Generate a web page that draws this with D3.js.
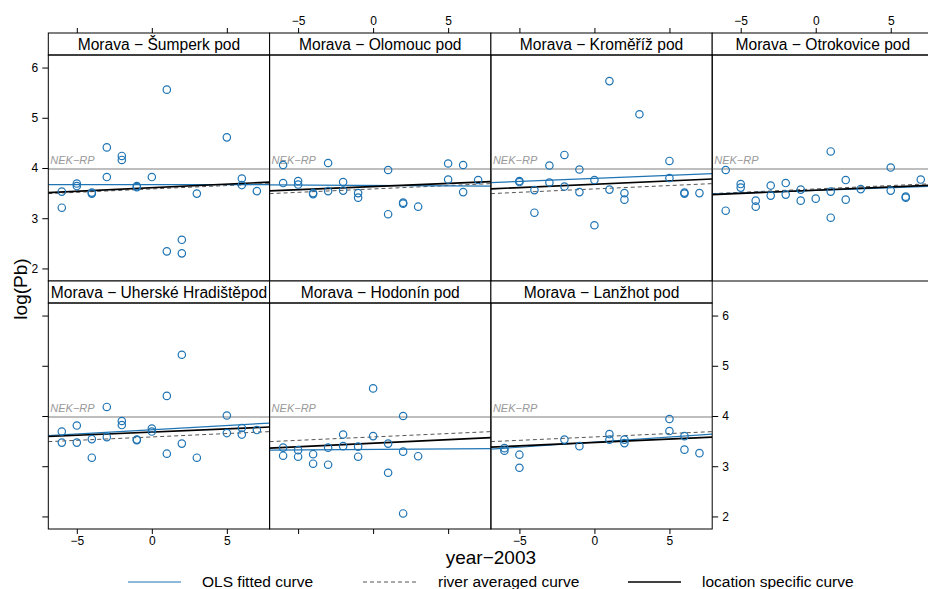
<!DOCTYPE html>
<html>
<head>
<meta charset="utf-8">
<script src="https://cdn.jsdelivr.net/npm/d3@7"></script>
<style>
body { margin: 0; background: #fff; }
text { font-family: "Liberation Sans", Arial, sans-serif; }
</style>
</head>
<body>
<script>
// one panel per sampling site, points are [year-2003, log(Pb)]
var sites = [
    "Morava \u2212 \u0160umperk pod",
    "Morava \u2212 Olomouc pod",
    "Morava \u2212 Krom\u011b\u0159\u00ed\u017e pod",
    "Morava \u2212 Otrokovice pod",
    "Morava \u2212 Uhersk\u00e9 Hradi\u0161t\u011bpod",
    "Morava \u2212 Hodon\u00edn pod",
    "Morava \u2212 Lan\u017ehot pod"
];

var sumperk = [[-6,3.53],[-6,3.21],[-5,3.69],[-5,3.64],[-4,3.51],[-4,3.49],[-3,4.41],[-3,3.82],
    [-2,4.24],[-2,4.16],[-1,3.64],[-1,3.62],[0,3.82],[1,5.56],[1,2.34],[2,2.57],[2,2.30],
    [3,3.49],[5,4.61],[6,3.79],[6,3.66],[7,3.54]];
var olomouc = [[-6,4.06],[-6,3.70],[-5,3.74],[-5,3.67],[-4,3.50],[-4,3.48],[-3,4.10],[-3,3.54],
    [-2,3.72],[-2,3.55],[-1,3.50],[-1,3.41],[1,3.96],[1,3.08],[2,3.31],[2,3.29],[3,3.23],
    [5,4.09],[5,3.77],[6,4.06],[6,3.52],[7,3.76]];
var kromeriz = [[-5,3.74],[-5,3.72],[-4,3.56],[-4,3.11],[-3,4.05],[-3,3.71],[-2,4.26],[-2,3.63],
    [-1,3.97],[-1,3.52],[0,3.76],[0,2.86],[1,5.73],[1,3.57],[2,3.50],[2,3.37],[3,5.07],
    [5,4.14],[5,3.80],[6,3.51],[6,3.49],[7,3.50]];
var otrokovice = [[-6,3.96],[-6,3.15],[-5,3.68],[-5,3.61],[-4,3.35],[-4,3.23],[-3,3.65],[-3,3.45],
    [-2,3.70],[-2,3.47],[-1,3.57],[-1,3.35],[0,3.39],[1,4.33],[1,3.53],[1,3.01],[2,3.76],
    [2,3.37],[3,3.58],[5,4.01],[5,3.55],[6,3.43],[6,3.41],[7,3.77]];
var uhHradiste = [[-6,3.69],[-6,3.47],[-5,3.81],[-5,3.47],[-4,3.54],[-4,3.17],[-3,4.18],[-3,3.58],
    [-2,3.90],[-2,3.82],[-1,3.53],[-1,3.52],[0,3.75],[0,3.69],[1,4.40],[1,3.25],[2,5.22],
    [2,3.45],[3,3.17],[5,4.01],[5,3.66],[6,3.76],[6,3.63],[7,3.72]];
var hodonin = [[-6,3.37],[-6,3.21],[-5,3.32],[-5,3.19],[-4,3.24],[-4,3.05],[-3,3.37],[-3,3.03],
    [-2,3.63],[-2,3.40],[-1,3.39],[-1,3.19],[0,4.55],[0,3.60],[1,3.45],[1,2.87],[2,4.00],
    [2,3.29],[2,2.06],[3,3.20]];
var lanzhot = [[-6,3.36],[-6,3.31],[-5,3.23],[-5,2.97],[-2,3.53],[-1,3.40],[1,3.64],[1,3.53],
    [2,3.53],[2,3.46],[5,3.94],[5,3.70],[6,3.60],[6,3.33],[7,3.26]];

var points = [sumperk, olomouc, kromeriz, otrokovice, uhHradiste, hodonin, lanzhot];

// fitted curves, value at year-2003 = 0 and slope per year
var olsIntercept = [3.67, 3.653, 3.794, 3.555, 3.727, 3.334, 3.480];
var olsSlope     = [0.0, -0.0017, 0.0122, 0.0108, 0.0169, 0.002, 0.0203];
var locIntercept = [3.608, 3.631, 3.676, 3.559, 3.679, 3.458, 3.473];
var locSlope     = [0.0142, 0.0125, 0.0132, 0.0128, 0.0128, 0.0142, 0.0135];
var riverIntercept = 3.583, riverSlope = 0.0135;
var nekRp = 3.98;

var xTicks = [-5, 0, 5],
    yTicks = [2, 3, 4, 5, 6];

var legendItems = ["OLS fitted curve", "river averaged curve", "location specific curve"];

var blue = "#1f74b4";

var margin = {top: 33, left: 48.3},
    panelW = 221.3,
    stripH = 22,
    panelH = 226,
    cols = 4;

var x = d3.scaleLinear().domain([-6.9, 7.85]).range([0, panelW]);
var y = d3.scaleLinear().domain([1.75, 6.25]).range([panelH, 0]);

var svg = d3.select("body").append("svg")
    .attr("width", 928)
    .attr("height", 589);

var defs = svg.append("defs");
defs.append("clipPath").attr("id", "clip")
    .append("rect").attr("width", panelW).attr("height", panelH);

function fitLine(a, b){
    var dom = x.domain();
    return d3.line()
        .x(function(d){ return x(d); })
        .y(function(d){ return y(a + b * d); })(dom);
}

function styleAxis(g, labels){
    g.select(".domain").remove();
    g.selectAll(".tick line").attr("stroke", "#000");
    g.selectAll(".tick text")
        .attr("fill", "#000")
        .style("font-size", "12px")
        .style("display", labels ? null : "none");
}

var panels = svg.selectAll("g.panel")
    .data(sites)
    .enter()
    .append("g")
    .attr("class", "panel")
    .attr("transform", function(d, i){
        var col = i % cols, row = Math.floor(i / cols);
        return "translate(" + (margin.left + col * panelW) + "," + (margin.top + row * (stripH + panelH)) + ")";
    })
    .each(function(d, i){
        var g = d3.select(this),
            col = i % cols,
            row = Math.floor(i / cols);

        // strip
        g.append("rect")
            .attr("width", panelW).attr("height", stripH)
            .attr("fill", "#fff").attr("stroke", "#000");
        g.append("text")
            .attr("x", panelW / 2).attr("y", stripH / 2 + 5.5)
            .attr("text-anchor", "middle")
            .style("font-size", "15.6px")
            .text(d);

        var body = g.append("g").attr("transform", "translate(0," + stripH + ")");
        var inner = body.append("g").attr("clip-path", "url(#clip)");

        inner.append("line")
            .attr("x1", 0).attr("x2", panelW)
            .attr("y1", y(nekRp)).attr("y2", y(nekRp))
            .attr("stroke", "#a8a8a8").attr("stroke-width", 1.5);
        inner.append("text")
            .attr("x", 2).attr("y", y(nekRp) - 5)
            .attr("fill", "#999")
            .style("font-size", "11px")
            .style("font-style", "italic")
            .text("NEK\u2212RP");

        inner.append("path")
            .attr("d", fitLine(riverIntercept, riverSlope))
            .attr("fill", "none").attr("stroke", "#555")
            .attr("stroke-dasharray", "4,3");
        inner.append("path")
            .attr("d", fitLine(olsIntercept[i], olsSlope[i]))
            .attr("fill", "none").attr("stroke", blue).attr("stroke-width", 1.2);
        inner.append("path")
            .attr("d", fitLine(locIntercept[i], locSlope[i]))
            .attr("fill", "none").attr("stroke", "#000").attr("stroke-width", 1.6);

        inner.selectAll("circle")
            .data(points[i])
            .enter()
            .append("circle")
            .attr("cx", function(p){ return x(p[0]); })
            .attr("cy", function(p){ return y(p[1]); })
            .attr("r", 3.7)
            .attr("fill", "none")
            .attr("stroke", blue)
            .attr("stroke-width", 1.2);

        body.append("rect")
            .attr("width", panelW).attr("height", panelH)
            .attr("fill", "none").attr("stroke", "#000");

        // axes on the outer sides, labels alternate
        if (row === 0) {
            g.append("g")
                .call(d3.axisTop(x).tickValues(xTicks).tickSize(5).tickPadding(3))
                .call(styleAxis, col % 2 === 1);
        }
        if (row === 1) {
            body.append("g")
                .attr("transform", "translate(0," + panelH + ")")
                .call(d3.axisBottom(x).tickValues(xTicks).tickSize(5).tickPadding(2).tickFormat(d3.format("d")))
                .call(styleAxis, col % 2 === 0);
        }
        if (col === 0) {
            body.append("g")
                .call(d3.axisLeft(y).tickValues(yTicks).tickSize(6).tickPadding(4))
                .call(styleAxis, row === 0);
        }
        if (i === sites.length - 1 || col === cols - 1) {
            body.append("g")
                .attr("transform", "translate(" + panelW + ",0)")
                .call(d3.axisRight(y).tickValues(yTicks).tickSize(6).tickPadding(4))
                .call(styleAxis, row === 1);
        }
    });

// minus sign like the reference
svg.selectAll(".tick text").text(function(d){ return d < 0 ? "\u2212" + Math.abs(d) : d; });

svg.append("text")
    .attr("x", margin.left + 2 * panelW).attr("y", 564)
    .attr("text-anchor", "middle")
    .style("font-size", "19px")
    .text("year\u22122003");

svg.append("text")
    .attr("transform", "translate(26.5,289) rotate(-90)")
    .attr("text-anchor", "middle")
    .style("font-size", "19px")
    .text("log(Pb)");

// legend
var legendX = [128, 363, 628];
var legend = svg.selectAll("g.legend")
    .data(legendItems)
    .enter()
    .append("g")
    .attr("class", "legend")
    .attr("transform", function(d, i){ return "translate(" + legendX[i] + ",582)"; });

legend.append("line")
    .attr("x1", 0).attr("x2", 53)
    .attr("stroke", function(d, i){ return i === 0 ? blue : i === 1 ? "#555" : "#000"; })
    .attr("stroke-width", function(d, i){ return i === 2 ? 1.6 : 1.2; })
    .attr("stroke-dasharray", function(d, i){ return i === 1 ? "4,3" : null; });

legend.append("text")
    .attr("x", function(d, i){ return i === 1 ? 75 : 74; })
    .attr("y", 5)
    .style("font-size", "15.5px")
    .text(function(d){ return d; });
</script>
</body>
</html>
